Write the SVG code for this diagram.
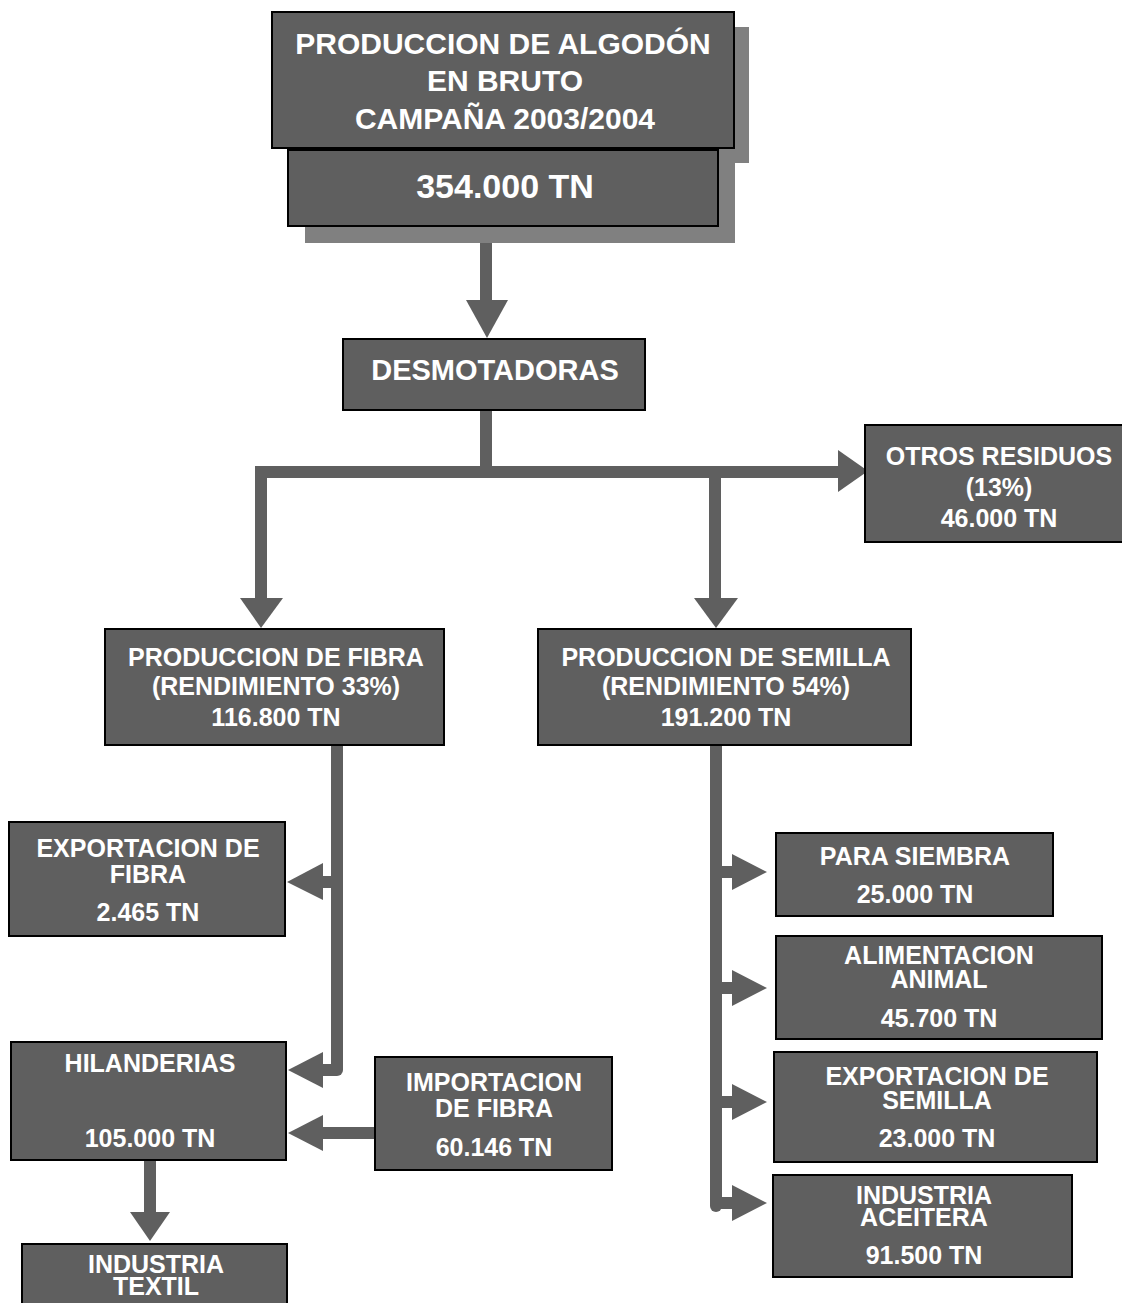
<svg xmlns="http://www.w3.org/2000/svg" width="1122" height="1303" viewBox="0 0 1122 1303">
<style>
.box{fill:#5f5f5f;stroke:#000;stroke-width:2}
.sh{fill:#808080}
.t{fill:#fff;font-family:"Liberation Sans",Arial,sans-serif;font-weight:bold;text-anchor:middle;font-size:25px}
.t30{font-size:30px}
.t34{font-size:34px}
.t29{font-size:29px}
.ln{stroke:#5f5f5f;stroke-width:12;fill:none}
.hd{fill:#5f5f5f}
</style>
<rect width="1122" height="1303" fill="#fff"/>
<g id="connectors">
<path class="ln" d="M486 228V302"/>
<polygon class="hd" points="466,300 508,300 487,338"/>
<path class="ln" d="M486 410V472"/>
<path class="ln" d="M261 600V472H840"/>
<polygon class="hd" points="240,598 283,598 261,628"/>
<path class="ln" d="M715 472V600"/>
<polygon class="hd" points="694,598 738,598 716,628"/>
<polygon class="hd" points="838,450 838,492 868,471"/>
<path class="ln" d="M337 745V1070" stroke-linecap="round"/>
<path class="ln" d="M337 882H320"/>
<polygon class="hd" points="323,863 323,900 287,882"/>
<path class="ln" d="M337 1070H320"/>
<polygon class="hd" points="323,1052 323,1088 288,1070"/>
<path class="ln" d="M376 1133H320"/>
<polygon class="hd" points="323,1115 323,1151 288,1133"/>
<path class="ln" d="M150 1160V1214" stroke-width="14"/>
<polygon class="hd" points="130,1212 170,1212 150,1241"/>
<path class="ln" d="M716 745V1206" stroke-linecap="round"/>
<path class="ln" d="M716 872H735M716 988H735M716 1102H735M716 1203H735"/>
<polygon class="hd" points="732,854 732,890 767,872"/>
<polygon class="hd" points="732,970 732,1006 767,988"/>
<polygon class="hd" points="732,1084 732,1120 767,1102"/>
<polygon class="hd" points="732,1185 732,1221 767,1203"/>
</g>
<g id="n-titulo">
<rect class="sh" x="288" y="27" width="461" height="136"/>
<rect class="box" x="272" y="12" width="462" height="136"/>
<text class="t t30" x="503" y="54">PRODUCCION DE ALGODÓN</text>
<text class="t t30" x="505" y="91">EN BRUTO</text>
<text class="t t30" x="505" y="129">CAMPAÑA 2003/2004</text>
</g>
<g id="n-total">
<rect class="sh" x="305" y="163" width="430" height="80"/>
<rect class="box" x="288" y="150" width="430" height="76"/>
<text class="t t34" x="505" y="198">354.000 TN</text>
</g>
<g id="n-desmotadoras">
<rect class="box" x="343" y="339" width="302" height="71"/>
<text class="t t29" x="495" y="380">DESMOTADORAS</text>
</g>
<g id="n-otros">
<rect class="box" x="865" y="425" width="260" height="117"/>
<text class="t" x="999" y="465">OTROS RESIDUOS</text>
<text class="t" x="999" y="496">(13%)</text>
<text class="t" x="999" y="527">46.000 TN</text>
</g>
<g id="n-fibra">
<rect class="box" x="105" y="629" width="339" height="116"/>
<text class="t" x="276" y="666">PRODUCCION DE FIBRA</text>
<text class="t" x="276" y="695">(RENDIMIENTO 33%)</text>
<text class="t" x="276" y="726">116.800 TN</text>
</g>
<g id="n-semilla">
<rect class="box" x="538" y="629" width="373" height="116"/>
<text class="t" x="726" y="666">PRODUCCION DE SEMILLA</text>
<text class="t" x="726" y="695">(RENDIMIENTO 54%)</text>
<text class="t" x="726" y="726">191.200 TN</text>
</g>
<g id="n-export-fibra">
<rect class="box" x="9" y="822" width="276" height="114"/>
<text class="t" x="148" y="857">EXPORTACION DE</text>
<text class="t" x="148" y="883">FIBRA</text>
<text class="t" x="148" y="921">2.465 TN</text>
</g>
<g id="n-hilanderias">
<rect class="box" x="11" y="1042" width="275" height="118"/>
<text class="t" x="150" y="1072">HILANDERIAS</text>
<text class="t" x="150" y="1147">105.000 TN</text>
</g>
<g id="n-import">
<rect class="box" x="375" y="1057" width="237" height="113"/>
<text class="t" x="494" y="1091">IMPORTACION</text>
<text class="t" x="494" y="1117">DE FIBRA</text>
<text class="t" x="494" y="1156">60.146 TN</text>
</g>
<g id="n-textil">
<rect class="box" x="22" y="1244" width="265" height="70"/>
<text class="t" x="156" y="1273">INDUSTRIA</text>
<text class="t" x="156" y="1295">TEXTIL</text>
</g>
<g id="n-siembra">
<rect class="box" x="776" y="833" width="277" height="83"/>
<text class="t" x="915" y="865">PARA SIEMBRA</text>
<text class="t" x="915" y="903">25.000 TN</text>
</g>
<g id="n-alimentacion">
<rect class="box" x="776" y="936" width="326" height="103"/>
<text class="t" x="939" y="964">ALIMENTACION</text>
<text class="t" x="939" y="988">ANIMAL</text>
<text class="t" x="939" y="1027">45.700 TN</text>
</g>
<g id="n-export-semilla">
<rect class="box" x="774" y="1052" width="323" height="110"/>
<text class="t" x="937" y="1085">EXPORTACION DE</text>
<text class="t" x="937" y="1109">SEMILLA</text>
<text class="t" x="937" y="1147">23.000 TN</text>
</g>
<g id="n-aceitera">
<rect class="box" x="773" y="1175" width="299" height="102"/>
<text class="t" x="924" y="1204">INDUSTRIA</text>
<text class="t" x="924" y="1226">ACEITERA</text>
<text class="t" x="924" y="1264">91.500 TN</text>
</g>
</svg>
